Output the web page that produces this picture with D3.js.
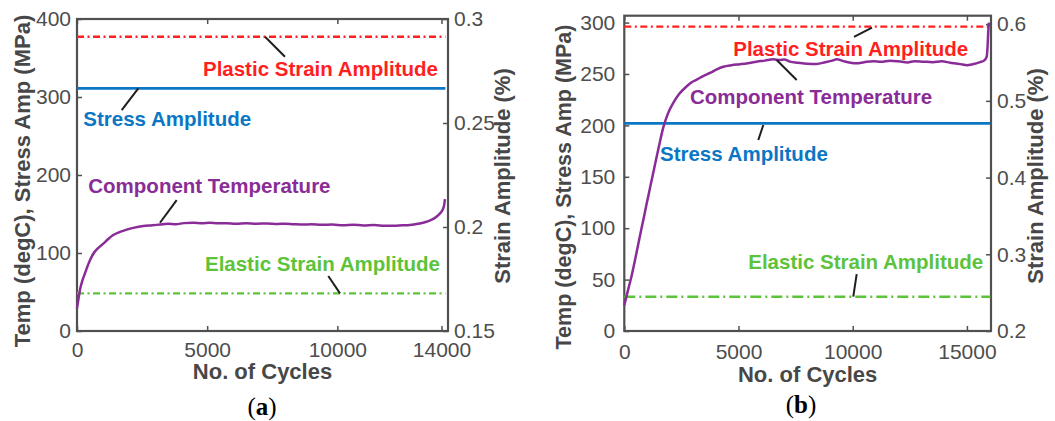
<!DOCTYPE html>
<html>
<head>
<meta charset="utf-8">
<script src="https://cdn.jsdelivr.net/npm/d3@7"></script>
<style>
  html, body { margin: 0; padding: 0; background: #ffffff; }
  svg { display: block; }
</style>
</head>
<body>
<svg id="chart" width="1055" height="421"></svg>
<script>
// ---------------- DATA ----------------
// Panel (a)
const cyclesA = [0, 60, 115, 200, 307, 450, 626, 800, 1010, 1200, 1394, 1650, 1907, 2200, 2546, 2900, 3186, 3500, 3800, 4100, 4466, 4800, 5100, 5400, 5746, 6100, 6500, 6900, 7300, 7700, 8000, 8304, 8700, 9000, 9400, 9800, 10224, 10600, 11000, 11400, 11800, 12143, 12500, 12783, 13100, 13423, 13650, 13807, 13950, 14062, 14110, 14130];
const tempA   = [29, 42, 53, 64, 74, 87, 99, 106, 112, 118, 123, 127, 130, 132.5, 134.5, 135.5, 136.5, 137.5, 137, 138.3, 138.8, 138.2, 138.7, 138.1, 138.3, 137.6, 138.2, 137.5, 137.9, 137.2, 137.6, 137, 136.4, 136.9, 136.1, 136.5, 135.6, 136.2, 135.3, 135.8, 135, 134.8, 135.5, 136, 137.5, 140, 143, 146.5, 151, 157, 163, 169];
const stressA  = 311;     // MPa (left axis)
const plasticA = 0.2915;  // % (right axis)
const elasticA = 0.1681;  // % (right axis)
const xTicksA  = [0, 5000, 10000, 14000];
const yLTicksA = [0, 100, 200, 300, 400];
const yRTicksA = [0.15, 0.2, 0.25, 0.3];

// Panel (b)
const cyclesB = [0, 100, 200, 324, 430, 543, 680, 832, 980, 1125, 1240, 1344, 1500, 1708, 1900, 2146, 2400, 2732, 2950, 3170, 3450, 3752, 4050, 4335, 4700, 5066, 5400, 5797, 6150, 6524, 6800, 7000, 7255, 7600, 8000, 8424, 8800, 9100, 9300, 9600, 9900, 10175, 10500, 10900, 11250, 11633, 12000, 12400, 12700, 13091, 13500, 13900, 14260, 14600, 14800, 14991, 15250, 15574, 15750, 15867, 15900, 15937, 15960];
const tempB   = [25, 34, 43, 54, 65, 77, 92, 108, 124, 139, 151, 162, 178, 198, 211, 222, 230.5, 238, 242, 244.5, 248, 251, 254.5, 257, 258.5, 259.5, 260.5, 262, 263, 264.3, 263.5, 264, 262, 261, 260, 259.7, 261.5, 263, 264.3, 262.5, 261, 260.4, 261.5, 262.5, 261.8, 263, 262.4, 261.2, 262.5, 262, 261.5, 262.3, 261, 260, 259.3, 258.6, 259.5, 261.5, 263, 266.8, 275, 292, 300];
const stressB  = 202;
const plasticB = 0.5967;
const elasticB = 0.2447;
const xTicksB  = [0, 5000, 10000, 15000];
const yLTicksB = [0, 50, 100, 150, 200, 250, 300];
const yRTicksB = [0.2, 0.3, 0.4, 0.5, 0.6];

const annotationNames = ["Plastic Strain Amplitude", "Stress Amplitude", "Component Temperature", "Elastic Strain Amplitude"];
const xLabel = "No. of Cycles";
const yLeftLabel = "Temp (degC), Stress Amp (MPa)";
const yRightLabel = "Strain Amplitude (%)";

// ---------------- STYLE ----------------
const COL = {
  red: "#ff1f1f", blue: "#0b77c4", purple: "#8a2c97", green: "#5cc33a",
  axis: "#505050", tick: "#4d4d4d", label: "#474747", pointer: "#1e1e1e"
};

const svg = d3.select("#chart");
svg.append("rect").attr("width", 1055).attr("height", 421).attr("fill", "#fff");

function drawPanel(cfg) {
  const g = svg.append("g");
  const x = d3.scaleLinear().domain(cfg.xDomain).range([cfg.left, cfg.right]);
  const yL = d3.scaleLinear().domain(cfg.yLDomain).range([cfg.bottom, cfg.top]);
  const yR = d3.scaleLinear().domain(cfg.yRDomain).range([cfg.bottom, cfg.top]);

  const styleAxis = sel => {
    sel.select(".domain").remove();
    sel.selectAll(".tick line").attr("stroke", COL.axis).attr("stroke-width", 1.5);
    sel.selectAll(".tick text").attr("fill", COL.tick)
      .attr("font-family", "Liberation Sans, Arial, sans-serif").attr("font-size", 21);
  };

  // axes with inward ticks
  g.append("g").attr("transform", `translate(0,${cfg.bottom})`)
    .call(d3.axisBottom(x).tickValues(cfg.xTicks).tickFormat(d3.format("d")).tickSizeInner(-5).tickSizeOuter(0).tickPadding(cfg.xPad))
    .call(styleAxis);
  g.append("g").attr("transform", `translate(0,${cfg.top})`)
    .call(d3.axisTop(x).tickValues(cfg.xTicks).tickFormat("").tickSizeInner(-5).tickSizeOuter(0))
    .call(styleAxis);
  g.append("g").attr("transform", `translate(${cfg.left},0)`)
    .call(d3.axisLeft(yL).tickValues(cfg.yLTicks).tickFormat(d3.format("d")).tickSizeInner(-5).tickSizeOuter(0).tickPadding(cfg.yLPad))
    .call(styleAxis);
  g.append("g").attr("transform", `translate(${cfg.right},0)`)
    .call(d3.axisRight(yR).tickValues(cfg.yRTicks).tickFormat(d => String(+d.toFixed(2))).tickSizeInner(-5).tickSizeOuter(0).tickPadding(6))
    .call(styleAxis);

  // box
  g.append("rect").attr("x", cfg.left).attr("y", cfg.top)
    .attr("width", cfg.right - cfg.left).attr("height", cfg.bottom - cfg.top)
    .attr("fill", "none").attr("stroke", COL.axis).attr("stroke-width", 2.2);

  const xEnd = cfg.lineEnd;
  // horizontal lines
  g.append("line").attr("x1", x(0)).attr("x2", x(xEnd)).attr("y1", yR(cfg.plastic)).attr("y2", yR(cfg.plastic))
    .attr("stroke", COL.red).attr("stroke-width", 2.4).attr("stroke-dasharray", cfg.redDash);
  g.append("line").attr("x1", x(0)).attr("x2", x(xEnd)).attr("y1", yL(cfg.stress)).attr("y2", yL(cfg.stress))
    .attr("stroke", COL.blue).attr("stroke-width", 2.6);
  g.append("line").attr("x1", x(0)).attr("x2", x(xEnd)).attr("y1", yR(cfg.elastic)).attr("y2", yR(cfg.elastic))
    .attr("stroke", COL.green).attr("stroke-width", 2.4).attr("stroke-dasharray", cfg.greenDash);

  // temperature curve
  const line = d3.line().x(d => x(d[0])).y(d => yL(d[1])).curve(d3.curveMonotoneX);
  g.append("path").datum(d3.zip(cfg.cycles, cfg.temp)).attr("d", line)
    .attr("fill", "none").attr("stroke", COL.purple).attr("stroke-width", 2.5);

  // annotations
  cfg.notes.forEach(n => {
    g.append("line").attr("x1", x(n.p0[0])).attr("y1", yL(n.p0[1]))
      .attr("x2", x(n.p1[0])).attr("y2", yL(n.p1[1]))
      .attr("stroke", COL.pointer).attr("stroke-width", 2);
    g.append("text").attr("x", x(n.t[0])).attr("y", yL(n.t[1])).attr("dy", "0.36em")
      .attr("text-anchor", n.anchor).attr("fill", n.color)
      .attr("font-family", "Liberation Sans, Arial, sans-serif").attr("font-weight", "bold")
      .attr("font-size", 20.5).text(n.text);
  });

  // axis labels
  g.append("text").attr("x", (cfg.left + cfg.right) / 2).attr("y", cfg.xLabelY).attr("dy", "0.36em")
    .attr("text-anchor", "middle").attr("fill", COL.label)
    .attr("font-family", "Liberation Sans, Arial, sans-serif").attr("font-weight", "bold").attr("font-size", 22)
    .text(xLabel);
  g.append("text").attr("transform", `translate(${cfg.yLLabelX},${cfg.yLLabelY}) rotate(-90)`).attr("dy", "0.36em")
    .attr("text-anchor", "middle").attr("fill", COL.label)
    .attr("font-family", "Liberation Sans, Arial, sans-serif").attr("font-weight", "bold").attr("font-size", cfg.yLFont)
    .text(yLeftLabel);
  g.append("text").attr("transform", `translate(${cfg.yRLabelX},${cfg.yRLabelY}) rotate(-90)`).attr("dy", "0.36em")
    .attr("text-anchor", "middle").attr("fill", COL.label)
    .attr("font-family", "Liberation Sans, Arial, sans-serif").attr("font-weight", "bold").attr("font-size", 22)
    .text(yRightLabel);

  // caption
  const cap = g.append("text").attr("x", cfg.capX).attr("y", cfg.capY).attr("text-anchor", "middle")
    .attr("font-family", "Liberation Serif, Times New Roman, serif").attr("font-size", 25).attr("fill", "#000");
  cap.append("tspan").text("(");
  cap.append("tspan").attr("font-weight", "bold").text(cfg.capLetter);
  cap.append("tspan").text(")");
}

drawPanel({
  left: 77, right: 448, top: 19, bottom: 331,
  xDomain: [0, 14250], yLDomain: [0, 400], yRDomain: [0.15, 0.3],
  xTicks: xTicksA, yLTicks: yLTicksA, yRTicks: yRTicksA,
  xPad: 11, yLPad: 6,
  cycles: cyclesA, temp: tempA, stress: stressA, plastic: plasticA, elastic: elasticA,
  lineEnd: 14150, redDash: "7,3.5,2,3.5", greenDash: "7,3.5,2,3.5",
  notes: [
    { text: annotationNames[0], color: COL.red, anchor: "end", t: [13866, 337], p0: [7221, 377.3], p1: [7989, 351.7] },
    { text: annotationNames[1], color: COL.blue, anchor: "start", t: [242, 271.8], p0: [2354, 311], p1: [1717, 283.3] },
    { text: annotationNames[2], color: COL.purple, anchor: "start", t: [434, 185.9], p0: [3188, 138.8], p1: [3829, 167.9] },
    { text: annotationNames[3], color: COL.green, anchor: "end", t: [13943, 86.8], p0: [10102, 48.3], p1: [9652, 70.5] }
  ],
  xLabelY: 371, yLLabelX: 22, yLLabelY: 181, yLFont: 22, yRLabelX: 502, yRLabelY: 176,
  capX: 262, capY: 415, capLetter: "a"
});

drawPanel({
  left: 624.3, right: 991, top: 15.7, bottom: 331,
  xDomain: [0, 16055], yLDomain: [0, 306.7], yRDomain: [0.2, 0.611],
  xTicks: xTicksB, yLTicks: yLTicksB, yRTicks: yRTicksB,
  xPad: 13, yLPad: 9,
  cycles: cyclesB, temp: tempB, stress: stressB, plastic: plasticB, elastic: elasticB,
  lineEnd: 16030, redDash: "7,3.5,2,3.5", greenDash: "11,4,2,4",
  notes: [
    { text: annotationNames[0], color: COL.red, anchor: "end", t: [15061, 275], p0: [10057, 286], p1: [10845, 295.2] },
    { text: annotationNames[1], color: COL.blue, anchor: "start", t: [1563, 172.2], p0: [6086, 200.4], p1: [5867, 185.8] },
    { text: annotationNames[2], color: COL.purple, anchor: "start", t: [2876, 227.9], p0: [6672, 263.6], p1: [7548, 244.2] },
    { text: annotationNames[3], color: COL.green, anchor: "end", t: [15717, 67.4], p0: [10026, 33.4], p1: [10174, 55.4] }
  ],
  xLabelY: 374, yLLabelX: 563, yLLabelY: 187, yLFont: 21.5, yRLabelX: 1035, yRLabelY: 176,
  capX: 801, capY: 413, capLetter: "b"
});
</script>
</body>
</html>
